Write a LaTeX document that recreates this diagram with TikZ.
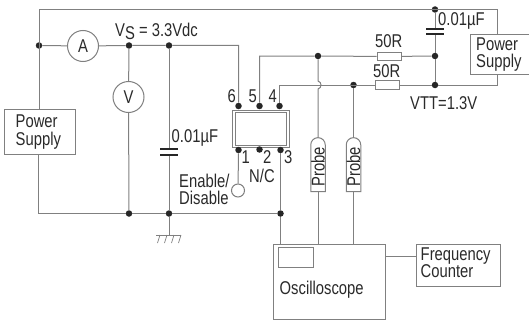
\documentclass[tikz,border=0pt]{standalone}
\usepackage{fontspec}
\setmainfont[FakeStretch=0.8]{Liberation Sans}
\usetikzlibrary{shapes.misc}
\definecolor{wire}{HTML}{808080}
\definecolor{ink}{HTML}{2A2A2A}
\tikzset{
  wirepath/.style={draw=wire,line width=1pt},
  dotnode/.style={circle,fill=black!85,draw=none,minimum size=6.5pt,inner sep=0pt},
  metre/.style={circle,draw=wire,line width=1pt,minimum size=31pt,inner sep=0pt,text=ink},
  boxnode/.style={rectangle,draw=wire,line width=1pt,inner sep=0pt,anchor=north west},
  label/.style={text=ink,inner sep=0pt,anchor=base west,align=left},
  resistor/.style={rectangle,draw=wire,fill=white,line width=1pt,minimum width=24pt,minimum height=8.5pt,inner sep=0pt},
  probebox/.style={rounded rectangle,rounded rectangle left arc=none,draw=wire,fill=white,line width=1pt,minimum width=54pt,minimum height=14.5pt,inner sep=0pt,rotate=90,text=ink},
  plate/.style={draw=black!85,line width=2pt}
}
\begin{document}
\begin{tikzpicture}[x=1pt,y=-1pt,font=\fontsize{18.5}{20}\selectfont]
\useasboundingbox (0,0) rectangle (529,321);
\fill[white] (0,0) rectangle (529,321);
% boxes
\node[boxnode,minimum width=71pt,minimum height=45pt] (psl) at (4,108.5) {};
\node[label] at (15.5,127.5) (psltxt) {Power};
\node[label] at (15.5,145) (psltxtb) {Supply};
\node[boxnode,minimum width=60pt,minimum height=39.5pt] (psr) at (470,34.5) {};
\node[label] at (476,50) (psrtxt) {Power};
\node[label] at (476,67) (psrtxtb) {Supply};
\node[boxnode,minimum width=112pt,minimum height=75pt] (osc) at (273,243.5) {};
\node[boxnode,minimum width=35pt,minimum height=19.5pt] (screen) at (278,247) {};
\node[label] at (279.5,294) (osctxt) {Oscilloscope};
\node[boxnode,minimum width=84pt,minimum height=42pt] (fc) at (416,244) {};
\node[label] at (420.5,260) (fctxt) {Frequency};
\node[label] at (420.5,277) (fctxtb) {Counter};
\node[boxnode,minimum width=56.5pt,minimum height=37.5pt] (ic) at (232,109.5) {};
\node[boxnode,minimum width=51.5pt,minimum height=32.5pt] (icin) at (234.5,112) {};
% junctions and pins
\node[dotnode] (jl) at (39,45.5) {};
\node[dotnode] (jv) at (129,45.5) {};
\node[dotnode] (jc) at (169,45.5) {};
\node[dotnode] (gv) at (129,213.5) {};
\node[dotnode] (gc) at (169,213.5) {};
\node[dotnode] (g3) at (280.5,213.5) {};
\node[dotnode] (p6) at (238.5,106) {};
\node[dotnode] (p5) at (259.5,106) {};
\node[dotnode] (p4) at (279.5,106) {};
\node[dotnode] (p1) at (238.5,150) {};
\node[dotnode] (p2) at (259.5,149.5) {};
\node[dotnode] (p3) at (280.5,150) {};
\node[dotnode] (jt) at (435,9.5) {};
\node[dotnode] (jm) at (435,56) {};
\node[dotnode] (jb) at (435,85) {};
\node[dotnode] (ja) at (318,56) {};
\node[dotnode] (jd) at (353.5,85) {};
% corners
\coordinate (tl) at (39,9.5);
\coordinate (tr) at (497.5,9.5);
\coordinate (blc) at (38.5,213.5);
\coordinate (c6) at (238.5,45.5);
\coordinate (c5) at (259.5,56);
\coordinate (c4) at (279.5,85);
\coordinate (br) at (497.5,85);
\coordinate (hopa) at (318,81);
\coordinate (hopb) at (318,89);
\coordinate (gnd) at (169,235);
\coordinate (gndl) at (156,235);
\coordinate (gndr) at (180.5,235);
\coordinate (ctop) at (169,149);
\coordinate (cbot) at (169,155);
\coordinate (rtop) at (435,29);
\coordinate (rbot) at (435,34);
\coordinate (fcj) at (416,256);
% elements
\node[metre] (amm) at (83,46) {A};
\node[metre] (vm) at (128.5,97) {V};
\node[resistor] (r1) at (389,56.5) {};
\node[resistor] (r2) at (387,85) {};
\node[circle,draw=wire,line width=1pt,minimum size=13pt,inner sep=0pt] (en) at (238,190.5) {};
\node[probebox] (pra) at (318,167) {Probe};
\node[probebox] (prb) at (353.5,167) {Probe};
% wires
\draw[wirepath] (psl.north -| tl) -- (tl) -- (tr) -- (tr |- psr.north);
\draw[wirepath] (jl) -- (amm) -- (jv) -- (jc) -- (c6) -- (p6);
\draw[wirepath] (jv) -- (vm) -- (gv);
\draw[wirepath] (psl.south -| blc) -- (blc) -- (gv) -- (gc) -- (g3);
\draw[wirepath] (jc) -- (ctop);
\draw[wirepath] (cbot) -- (gc) -- (gnd);
\draw[wirepath] (gndl) -- (gndr);
\foreach \i in {158,165,172,179} \draw[draw=wire,line width=0.7pt] (\i+2,235) -- (\i-0.5,243);
\draw[plate] (160,149) -- (178,149);
\draw[plate] (160,155) -- (178,155);
\draw[wirepath] (p5) -- (c5) -- (ja) -- (r1) -- (jm);
\draw[wirepath] (p4) -- (c4) -- (r2) -- (jb) -- (br) -- (br |- psr.south);
\draw[wirepath] (ja) -- (hopa) .. controls (322,82) and (322,88) .. (hopb) -- (pra.east);
\draw[wirepath] (jd) -- (prb.east);
\draw[wirepath] (pra.west) -- (pra.west |- osc.north);
\draw[wirepath] (prb.west) -- (prb.west |- osc.north);
\draw[wirepath] (jt) -- (rtop);
\draw[wirepath] (rbot) -- (jm) -- (jb);
\draw[plate] (426,29) -- (444,29);
\draw[plate] (426,34) -- (444,34);
\draw[wirepath] (p1) -- (en);
\draw[wirepath] (p3) -- (g3) -- (g3 |- osc.north);
\draw[wirepath] (osc.east |- fcj) -- (fcj);
% labels
\node[label] at (115,37) (vstxt) {V\raisebox{-2.5pt}{S} = 3.3Vdc};
\node[label] at (171.5,142) (c1txt) {0.01µF};
\node[label] at (438,26) (c2txt) {0.01µF};
\node[label] at (375,48) (r1txt) {50R};
\node[label] at (373,77) (r2txt) {50R};
\node[label] at (410,109) (vtt) {VTT=1.3V};
\node[label] at (227.5,102) (n6) {6};
\node[label] at (248.5,102) (n5) {5};
\node[label] at (268.5,102) (n4) {4};
\node[label] at (241.5,163) (n1) {1};
\node[label] at (263,163) (n2) {2};
\node[label] at (284,163) (n3) {3};
\node[label] at (249,182) (nc) {N/C};
\node[label] at (179,187) (entxt) {Enable/};
\node[label] at (179,204) (dis) {Disable};
\end{tikzpicture}
\end{document}
